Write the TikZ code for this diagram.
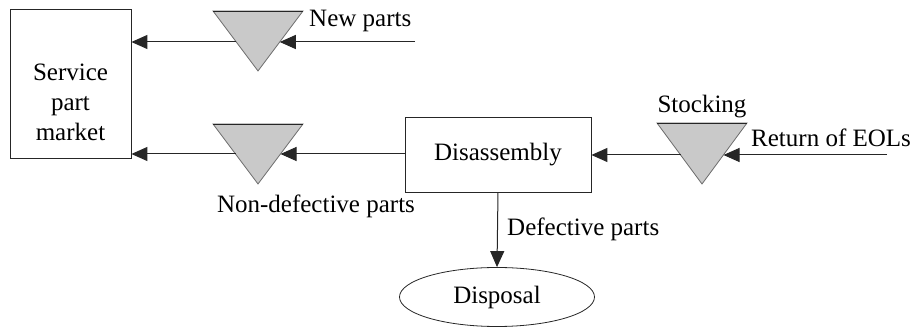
\documentclass[tikz,border=0pt]{standalone}
\usepackage{fontspec}
\setmainfont{Liberation Serif}
\newfontfamily\diagfont{Liberation Serif}
\usetikzlibrary{arrows.meta,shapes.geometric}
\begin{document}
\begin{tikzpicture}[x=1pt,y=-1pt,
  every node/.style={font=\diagfont\fontsize{25}{30}\selectfont},
  flow/.style={draw=black!85,line width=1pt,-{Triangle[length=16pt,width=14pt]}},
  boxnode/.style={draw=black!85,line width=0.8pt,rectangle,inner sep=0pt},
  stock/.style={fill=gray!42,draw=gray!85!black,line width=0.8pt},
  lbl/.style={inner sep=0pt}]
\useasboundingbox (0,0) rectangle (914,328);
% boxes
\node[boxnode,minimum width=121pt,minimum height=149pt] (spm) at (70.5,83.5) {};
\node[lbl,align=center] (spmt) at (70.5,102) {Service\\part\\market};
\node[boxnode,minimum width=186pt,minimum height=75pt] (dis) at (498,154.5) {Disassembly};
\node[draw=black!85,line width=0.8pt,ellipse,minimum width=195pt,minimum height=59pt,inner sep=0pt] (disp) at (497,297) {Disposal};
% triangles
\filldraw[stock] (213,11) -- (303,11) -- (258,71) -- cycle;
\draw[black!85,line width=0.8pt] (213,11) -- (303,11);
\filldraw[stock] (213,124) -- (303,124) -- (258,184) -- cycle;
\draw[black!85,line width=0.8pt] (213,124) -- (303,124);
\filldraw[stock] (657,123) -- (747,123) -- (702,184) -- cycle;
\draw[black!85,line width=0.8pt] (657,123) -- (747,123);
% coordinates on triangle sides
\coordinate (t1l) at (236.25,42);
\coordinate (t1r) at (279.75,42);
\coordinate (t2l) at (235.5,154);
\coordinate (t2r) at (280.5,154);
\coordinate (t3l) at (680.5,155);
\coordinate (t3r) at (723.5,155);
\coordinate (newin) at (415,42);
\coordinate (eolin) at (887,155);
% connectors
\draw[flow] (newin) -- (t1r);
\draw[flow] (t1l) -- (spm.east |- t1l);
\draw[flow] (dis.west |- t2r) -- (t2r);
\draw[flow] (t2l) -- (spm.east |- t2l);
\draw[flow] (eolin) -- (t3r);
\draw[flow] (t3l) -- (dis.east |- t3l);
\draw[flow] (dis.south) -- (disp.north);
% labels
\node[lbl,anchor=west] (lnew) at (309,21) {New parts};
\node[lbl] (lstock) at (702,107) {Stocking};
\node[lbl,anchor=west] (leol) at (751,138) {Return of EOLs};
\node[lbl] (lnondef) at (316,206) {Non-defective parts};
\node[lbl,anchor=west] (ldef) at (507,229) {Defective parts};
\end{tikzpicture}
\end{document}
